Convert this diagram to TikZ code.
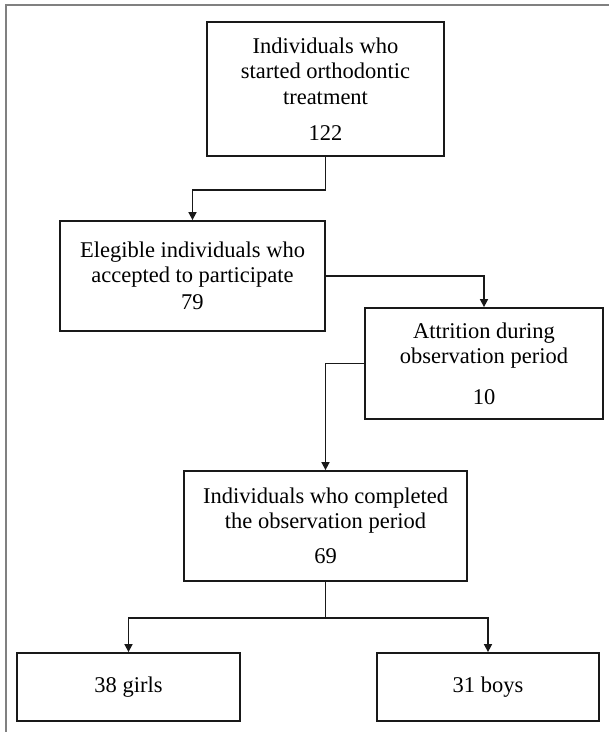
\documentclass[tikz,border=0pt]{standalone}
\usepackage{fontspec}
\setmainfont{Liberation Serif}
\usetikzlibrary{arrows.meta}
\tikzset{
  flowbox/.style={draw=black!90, line width=1.8pt, rectangle, inner sep=0pt, align=center,
    font=\fontsize{22.5}{25.5}\selectfont, text=black},
  conn/.style={draw=black!90, line width=1.6pt},
  arr/.style={conn, -{Triangle[length=8pt,width=8pt]}},
  frameline/.style={draw=black!50, line width=1.6pt}
}
\begin{document}
\begin{tikzpicture}[x=1pt,y=-1pt]
\useasboundingbox (0,0) rectangle (609,732);
\draw[frameline] (6,732) -- (6,4.7) -- (609,4.7);

\node[flowbox, minimum width=237pt, minimum height=134pt] (b1) at (325.5,89)
  {Individuals who\\started orthodontic\\treatment\\[11pt]122};
\node[flowbox, minimum width=265pt, minimum height=110pt] (b2) at (192.5,276)
  {Elegible individuals who\\accepted to participate\\[1.5pt]79};
\node[flowbox, minimum width=238pt, minimum height=111pt] (b3) at (484,363.5)
  {Attrition during\\observation period\\[15pt]10};
\node[flowbox, minimum width=283pt, minimum height=110pt] (b4) at (325.5,526)
  {Individuals who completed\\the observation period\\[9.5pt]69};
\node[flowbox, minimum width=223pt, minimum height=68pt] (b5) at (128.5,687) {38 girls};
\node[flowbox, minimum width=222pt, minimum height=68pt] (b6) at (488,687) {31 boys};

\draw[arr] (b1.south) -- ++(0,33) -| (b2.north);
\draw[arr] (b2.east) -| (b3.north);
\draw[arr] (b3.west) -| (b4.north);
\draw[conn] (b4.south) -- ++(0,36) coordinate (j);
\draw[arr] (j) -| (b5.north);
\draw[arr] (j) -| (b6.north);
\end{tikzpicture}
\end{document}
